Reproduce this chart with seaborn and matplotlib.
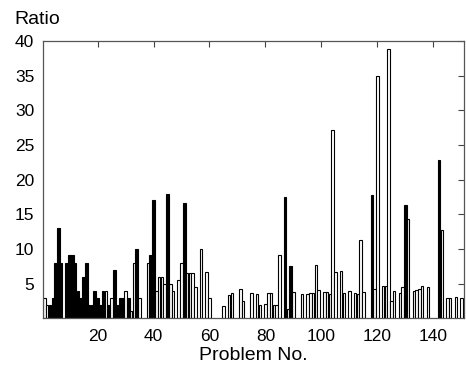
import matplotlib
matplotlib.use("Agg")
import matplotlib.pyplot as plt
import seaborn as sns
import pandas as pd

# Ratio per problem (1..150); 0 = no bar
ratios = [
    2.9, 2.0, 2.0, 2.9, 8.0, 13.1, 8.0, 0, 8.0, 9.1,
    9.1, 8.0, 4.0, 3.0, 6.0, 8.0, 2.0, 2.0, 4.0, 3.0,
    2.0, 4.0, 4.0, 2.0, 2.9, 7.0, 2.0, 2.9, 2.9, 4.0,
    2.9, 1.0, 8.0, 10.0, 2.9, 0, 0, 8.0, 9.1, 17.0,
    3.9, 6.0, 6.0, 5.0, 18.0, 5.0, 3.9, 0, 5.5, 8.0,
    16.6, 6.5, 6.5, 6.5, 4.5, 0, 10.0, 0, 6.7, 2.9,
    0, 0, 0, 0, 1.8, 0, 3.4, 3.7, 0, 0,
    4.3, 2.5, 0, 0, 3.6, 0, 3.5, 2.0, 0, 2.1,
    3.6, 3.6, 1.9, 1.9, 9.2, 0, 17.5, 1.3, 7.6, 3.8,
    0, 0, 3.5, 0, 3.5, 3.6, 3.7, 7.7, 4.1, 0,
    3.8, 3.8, 3.5, 27.1, 6.7, 0, 6.8, 3.6, 0, 4.0,
    0, 3.6, 3.5, 11.3, 3.8, 0, 0, 17.8, 4.2, 35.0,
    0, 4.6, 4.7, 38.9, 2.5, 3.9, 0, 3.6, 4.5, 16.3,
    14.3, 0, 3.9, 4.1, 4.3, 4.7, 0, 4.5, 0, 0,
    0, 22.8, 12.7, 0, 3.0, 3.0, 0, 3.1, 0, 3.0,
]
# B = black bar, W = white bar
kinds = (
    "WWBBBBBBBB"
    "BBBBBBBBBB"
    "BBWBWBBBBW"
    "BWWBWWWWBB"
    "WWWWBWWWWW"
    "BWWWWWWWWW"
    "WWWWWWWWWW"
    "WWWWWWWWWW"
    "WWWWWWBWBW"
    "WWWWWWWWWW"
    "WWWWWWWWWW"
    "WWWWWWWBWW"
    "WWWWWWWWWB"
    "WWWWWWWWWW"
    "WBWWWWWWWW"
)
problems = list(range(1, 151))
xticks = [20, 40, 60, 80, 100, 120, 140]
yticks = [5, 10, 15, 20, 25, 30, 35, 40]

df = pd.DataFrame({"problem": problems, "ratio": ratios, "kind": list(kinds)})
df = df[df["ratio"] > 0]

sns.set_style("white")
plt.rcParams["font.family"] = ["Liberation Sans", "DejaVu Sans"]
plt.rcParams["text.color"] = "black"
plt.rcParams["xtick.labelcolor"] = "black"
plt.rcParams["ytick.labelcolor"] = "black"
plt.rcParams["axes.labelcolor"] = "black"

fig = plt.figure(figsize=(4.67, 3.75), dpi=100)
ax = fig.add_axes([0.0914, 0.151, 0.9026, 0.7397])

sns.barplot(data=df, x="problem", y="ratio", hue="kind",
            palette={"B": "black", "W": "white"}, native_scale=True,
            dodge=False, width=0.9, edgecolor="black", linewidth=0.8,
            errorbar=None, legend=False, ax=ax)

ax.set_xlim(0.4, 151)
ax.set_ylim(0, 40)
ax.set_xticks(xticks)
ax.set_yticks(yticks)
ax.tick_params(direction="in", length=4.5, width=0.8, color="#444444",
               labelsize=12.5, labelcolor="black", top=True, right=True,
               labeltop=False, labelright=False)
ax.tick_params(axis="x", pad=8)
ax.tick_params(axis="y", pad=6)
for s in ax.spines.values():
    s.set_visible(True)
    s.set_color("#555555")
    s.set_linewidth(0.9)
ax.set_xlabel("Problem No.", fontsize=14, labelpad=2, color="black")
ax.set_ylabel("")
fig.text(14 / 467, 1 - 20 / 375, "Ratio", fontsize=14, ha="left",
         va="center", color="black")

fig.savefig("out.png", dpi=100)
